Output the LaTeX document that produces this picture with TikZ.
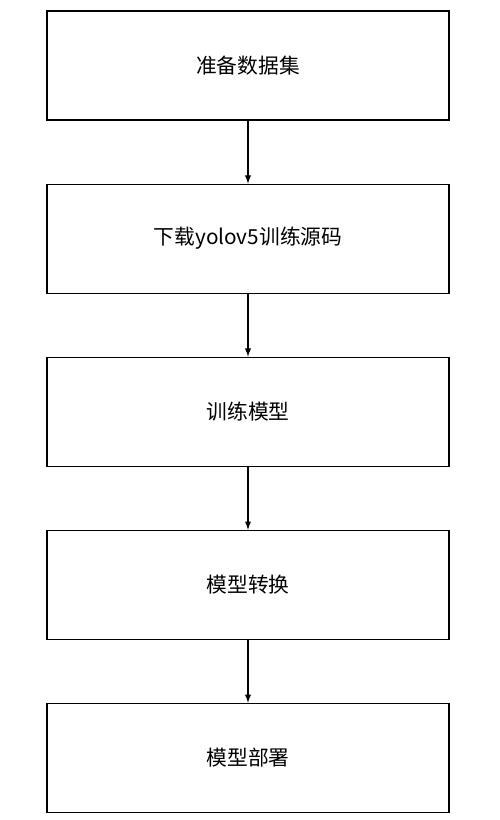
\documentclass[tikz,border=0pt]{standalone}
\usepackage{fontspec}
\setmainfont{Noto Sans CJK SC}
\usepackage{tikz}
\usetikzlibrary{positioning}
\usetikzlibrary{arrows}

\begin{document}
\begin{tikzpicture}[node distance=1.26cm, >=latex,
  stepbox/.style={draw, line width=0.6pt, minimum width=8.04cm, minimum height=2.18cm, inner sep=0pt, font=\fontsize{11.8pt}{14pt}\selectfont}]

\useasboundingbox (0,0) rectangle (10,-16.4);

\node [stepbox] (data) at (4.96,-1.31) {准备数据集};
\node [stepbox, below = of data] (code) {下载yolov5训练源码};
\node [stepbox, below = of code] (train) {训练模型};
\node [stepbox, below = of train] (conv) {模型转换};
\node [stepbox, below = of conv] (deploy) {模型部署};

\draw [->, line width=0.6pt] (data) -- (code);
\draw [->, line width=0.6pt] (code) -- (train);
\draw [->, line width=0.6pt] (train) -- (conv);
\draw [->, line width=0.6pt] (conv) -- (deploy);

\end{tikzpicture}
\end{document}
